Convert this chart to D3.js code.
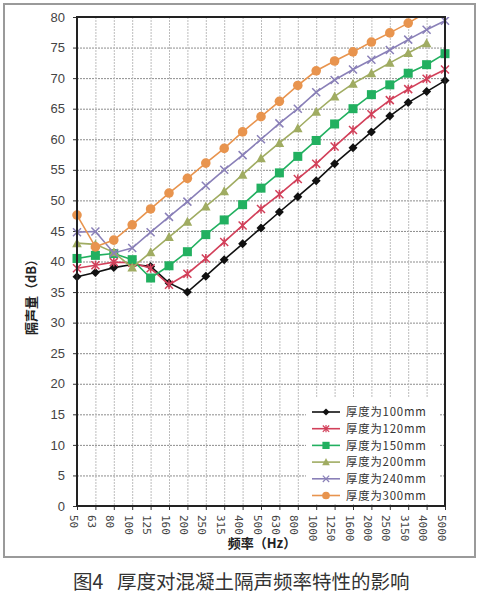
<!DOCTYPE html>
<html>
<head>
<meta charset="utf-8">
<script src="https://cdn.jsdelivr.net/npm/d3@7"></script>
<style>
  body { margin: 0; background: #fff; }
  svg { display: block; }
</style>
</head>
<body>
<div id="chart"></div>
<script>
const freqs = ["50","63","80","100","125","160","200","250","315","400","500","630","800","1000","1250","1600","2000","2500","3150","4000","5000"];
const yTicks = [0,5,10,15,20,25,30,35,40,45,50,55,60,65,70,75,80];
const seriesNames = ["厚度为100mm","厚度为120mm","厚度为150mm","厚度为200mm","厚度为240mm","厚度为300mm"];

const t100 = [37.5,38.2,39.0,39.5,39.2,36.5,35.0,37.6,40.3,42.9,45.5,48.1,50.6,53.2,56.0,58.6,61.2,63.8,66.0,67.8,69.6];
const t120 = [38.9,39.4,39.9,39.8,38.9,36.2,38.0,40.5,43.2,45.9,48.6,51.0,53.5,56.0,58.8,61.5,64.1,66.4,68.2,69.9,71.4];
const t150 = [40.5,41.0,41.3,40.3,37.3,39.3,41.6,44.4,46.8,49.3,52.0,54.5,57.2,59.8,62.5,65.0,67.3,68.9,70.8,72.2,74.0];
const t200 = [43.0,42.8,41.5,39.0,41.5,44.0,46.5,49.0,51.5,54.2,56.9,59.4,61.8,64.5,67.0,69.1,70.8,72.5,74.1,75.7,null];
const t240 = [44.8,44.9,41.4,42.2,44.8,47.3,49.8,52.4,55.0,57.4,60.0,62.6,65.0,67.7,69.7,71.4,73.0,74.6,76.3,77.9,79.4];
const t300 = [47.6,42.4,43.5,46.0,48.6,51.2,53.6,56.1,58.5,61.2,63.7,66.2,68.8,71.2,72.8,74.3,75.9,77.4,79.0,80.8,null];

const series = [
  { name: seriesNames[0], values: t100, color: "#111111", marker: "diamond" },
  { name: seriesNames[1], values: t120, color: "#d2405a", marker: "star" },
  { name: seriesNames[2], values: t150, color: "#22b060", marker: "square" },
  { name: seriesNames[3], values: t200, color: "#a0ac62", marker: "triangle" },
  { name: seriesNames[4], values: t240, color: "#8a80b8", marker: "cross" },
  { name: seriesNames[5], values: t300, color: "#e8944e", marker: "circle" }
];

const width = 481, height = 600;
const plot = { left: 77, right: 445, top: 17, bottom: 506 };

const svg = d3.select("#chart").append("svg")
  .attr("width", width)
  .attr("height", height);

// outer frame
svg.append("rect")
  .attr("x", 4).attr("y", 4)
  .attr("width", 471).attr("height", 553)
  .attr("fill", "#fff")
  .attr("stroke", "#9a9a9a")
  .attr("stroke-width", 2);

const x = d3.scalePoint().domain(freqs).range([plot.left, plot.right]);
const y = d3.scaleLinear().domain([0, 80]).range([plot.bottom, plot.top]);

svg.append("clipPath").attr("id", "clip")
  .append("rect")
  .attr("x", plot.left - 10).attr("y", plot.top)
  .attr("width", plot.right - plot.left + 20)
  .attr("height", plot.bottom - plot.top);

// grid
const grid = svg.append("g")
  .attr("stroke", "#8c8c8c")
  .attr("stroke-width", 1)
  .attr("stroke-dasharray", "2,1");

grid.selectAll("line.h")
  .data(yTicks.filter(d => d > 0 && d < 80))
  .join("line")
  .attr("class", "h")
  .attr("x1", plot.left).attr("x2", plot.right)
  .attr("y1", d => y(d) + 0.5).attr("y2", d => y(d) + 0.5);

grid.selectAll("line.v")
  .data(freqs.slice(1, -1))
  .join("line")
  .attr("class", "v")
  .attr("stroke", "#bdbdbd")
  .attr("x1", d => x(d) + 0.5).attr("x2", d => x(d) + 0.5)
  .attr("y1", plot.top).attr("y2", plot.bottom);

// y axis
const yAxis = svg.append("g")
  .attr("transform", `translate(${plot.left},0)`)
  .call(d3.axisLeft(y).tickValues(yTicks).tickSize(4).tickPadding(8));
yAxis.select(".domain").remove();
yAxis.selectAll("line").attr("stroke", "#333");
yAxis.selectAll("text")
  .attr("font-family", "'Liberation Sans', Arial, sans-serif")
  .attr("font-size", 13)
  .attr("fill", "#444");

// x axis
const xAxis = svg.append("g")
  .attr("transform", `translate(0,${plot.bottom})`)
  .call(d3.axisBottom(x).tickSize(4).tickPadding(0));
xAxis.select(".domain").remove();
xAxis.selectAll("line").attr("stroke", "#333");
xAxis.selectAll("text")
  .attr("font-family", "'DejaVu Sans Mono', monospace")
  .attr("font-size", 11)
  .attr("fill", "#444")
  .attr("text-anchor", "start")
  .attr("dy", "0.35em")
  .attr("transform", "translate(0,9) rotate(90)");

// legend background (covers grid)
const legend = svg.append("g").attr("transform", "translate(306,398)");
legend.append("rect")
  .attr("x", 0).attr("y", 0)
  .attr("width", 134).attr("height", 106)
  .attr("fill", "#fff");

// lines
const line = d3.line()
  .defined(d => d != null)
  .x((d, i) => x(freqs[i]))
  .y(d => y(d));

const lines = svg.append("g").attr("clip-path", "url(#clip)");

function drawMarker(g, type, color) {
  if (type === "diamond") {
    g.append("path").attr("d", "M0,-4.5L4.5,0L0,4.5L-4.5,0Z").attr("fill", color);
  } else if (type === "square") {
    g.append("rect").attr("x", -4.5).attr("y", -4.5).attr("width", 9).attr("height", 9).attr("fill", color);
  } else if (type === "triangle") {
    g.append("path").attr("d", "M0,-5L4.8,4L-4.8,4Z").attr("fill", color);
  } else if (type === "circle") {
    g.append("circle").attr("r", 4.8).attr("fill", color);
  } else if (type === "cross") {
    g.append("path").attr("d", "M-4,-4L4,4M-4,4L4,-4").attr("stroke", color).attr("stroke-width", 1.5).attr("fill", "none");
  } else if (type === "star") {
    g.append("path").attr("d", "M-4,-4L4,4M-4,4L4,-4M0,-4.5L0,4.5").attr("stroke", color).attr("stroke-width", 1.5).attr("fill", "none");
  }
}

series.forEach(s => {
  lines.append("path")
    .datum(s.values)
    .attr("fill", "none")
    .attr("stroke", s.color)
    .attr("stroke-width", 1.6)
    .attr("d", line);
  const pts = lines.append("g");
  s.values.forEach((v, i) => {
    if (v == null) return;
    const m = pts.append("g").attr("transform", `translate(${x(freqs[i])},${y(v)})`);
    drawMarker(m, s.marker, s.color);
  });
});

// plot border
svg.append("rect")
  .attr("x", plot.left).attr("y", plot.top)
  .attr("width", plot.right - plot.left)
  .attr("height", plot.bottom - plot.top)
  .attr("fill", "none")
  .attr("stroke", "#222")
  .attr("stroke-width", 2);

// legend entries
series.forEach((s, i) => {
  const row = legend.append("g").attr("transform", `translate(0,${14 + i * 16.7})`);
  row.append("line")
    .attr("x1", 6).attr("x2", 34)
    .attr("stroke", s.color).attr("stroke-width", 1.6);
  const m = row.append("g").attr("transform", "translate(20,0) scale(0.8)");
  drawMarker(m, s.marker, s.color);
  row.append("text")
    .attr("x", 40)
    .attr("dy", "0.36em")
    .attr("font-family", "'Noto Sans CJK SC', sans-serif")
    .attr("font-size", 11.4)
    .attr("letter-spacing", 0.8)
    .attr("fill", "#333")
    .text(s.name);
});

// axis titles
svg.append("text")
  .attr("x", 262).attr("y", 548)
  .attr("text-anchor", "middle")
  .attr("font-family", "'Noto Sans CJK SC', sans-serif")
  .attr("font-weight", "bold")
  .attr("font-size", 13)
  .attr("fill", "#222")
  .text("频率（Hz）");

svg.append("text")
  .attr("transform", "translate(36,294) rotate(-90)")
  .attr("text-anchor", "middle")
  .attr("font-family", "'Noto Sans CJK SC', sans-serif")
  .attr("font-weight", "bold")
  .attr("font-size", 13)
  .attr("fill", "#222")
  .text("隔声量（dB）");

// caption
const cap = svg.append("text")
  .attr("x", 73).attr("y", 589)
  .attr("font-family", "'Noto Sans CJK SC', sans-serif")
  .attr("font-size", 19.5)
  .attr("fill", "#333");
cap.append("tspan").text("图4");
cap.append("tspan").attr("x", 117).text("厚度对混凝土隔声频率特性的影响");
</script>
</body>
</html>
